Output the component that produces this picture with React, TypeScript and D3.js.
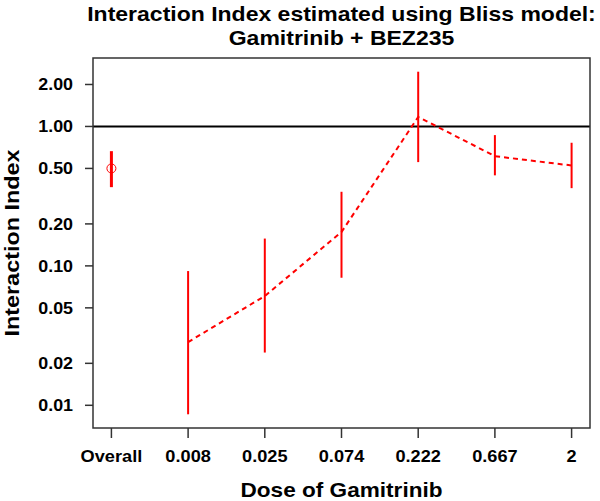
import React, { useEffect } from 'react';
import * as d3 from 'd3';

// doses on the x axis ("Overall" is the pooled estimate)
const doseLabels = ['Overall', '0.008', '0.025', '0.074', '0.222', '0.667', '2'];
// interaction index estimates and their confidence limits
const estimate = [0.5, 0.0284, 0.0608, 0.175, 1.17, 0.612, 0.525];
const lower = [0.367, 0.00862, 0.0239, 0.0822, 0.555, 0.446, 0.361];
const upper = [0.665, 0.0918, 0.157, 0.34, 2.47, 0.867, 0.764];
const yTicks = [0.01, 0.02, 0.05, 0.1, 0.2, 0.5, 1, 2];

const W = 600;
const H = 501;
const margin = { top: 58, right: 10, bottom: 73, left: 93 };

// bold label, stretched a little along its baseline like the original
const Label = ({ x, y, rotate = 0, size, stretch = 1, anchor = 'middle', children }) => (
  <text
    transform={`translate(${x},${y}) rotate(${rotate}) scale(${stretch},1)`}
    textAnchor={anchor}
    fontSize={size}
    fontWeight="bold"
  >
    {children}
  </text>
);

const App = () => {
  useEffect(() => {
    document.body.style.margin = '0';
  }, []);

  const x0 = margin.left;
  const x1 = W - margin.right;
  const y0 = H - margin.bottom;
  const y1 = margin.top;

  // R-style 4% padding on each side
  const n = doseLabels.length;
  const xPad = (n - 1) * 0.04;
  const x = d3.scaleLinear().domain([1 - xPad, n + xPad]).range([x0, x1]);

  const lo = Math.log10(d3.min(lower));
  const hi = Math.log10(d3.max(upper));
  const yPad = (hi - lo) * 0.04;
  const y = d3.scaleLog().domain([10 ** (lo - yPad), 10 ** (hi + yPad)]).range([y0, y1]);

  const doseIdx = d3.range(1, n); // dose-response points, not "Overall"
  const line = d3.line().x(i => x(i + 1)).y(i => y(estimate[i]));

  const font = 'Liberation Sans, Arial, sans-serif';
  const cx = (x0 + x1) / 2;

  return (
    <svg width={W} height={H} style={{ display: 'block', fontFamily: font }}>
      <rect width={W} height={H} fill="#fff" />

      {/* title */}
      <Label x={cx} y={21} size={20} stretch={1.15}>
        Interaction Index estimated using Bliss model:
      </Label>
      <Label x={cx} y={45} size={20} stretch={1.15}>
        Gamitrinib + BEZ235
      </Label>

      {/* reference line at 1 */}
      <line x1={x0} x2={x1} y1={y(1)} y2={y(1)} stroke="#000" strokeWidth={2} />

      {/* dashed line through dose estimates */}
      <path d={line(doseIdx)} fill="none" stroke="#ff0000" strokeWidth={2} strokeDasharray="5,4" />

      {/* confidence intervals */}
      {estimate.map((d, i) => (
        <line
          key={i}
          x1={x(i + 1)}
          x2={x(i + 1)}
          y1={y(lower[i])}
          y2={y(upper[i])}
          stroke="#ff0000"
          strokeWidth={i === 0 ? 3 : 2}
        />
      ))}

      {/* overall point */}
      <circle cx={x(1)} cy={y(estimate[0])} r={4.5} fill="none" stroke="#ff0000" strokeWidth={1} />

      {/* box */}
      <rect x={x0} y={y1} width={x1 - x0} height={y0 - y1} fill="none" stroke="#333" strokeWidth={1.5} />

      {/* y axis */}
      {yTicks.map(t => (
        <g key={t}>
          <line x1={x0 - 8} x2={x0} y1={y(t)} y2={y(t)} stroke="#333" strokeWidth={1.5} />
          <Label x={x0 - 20} y={y(t) + 6} size={17} stretch={1.05} anchor="end">
            {t.toFixed(2)}
          </Label>
        </g>
      ))}
      <Label x={19} y={(y0 + y1) / 2} rotate={-90} size={20} stretch={1.17}>
        Interaction Index
      </Label>

      {/* x axis */}
      {doseLabels.map((lab, i) => (
        <g key={lab}>
          <line x1={x(i + 1)} x2={x(i + 1)} y1={y0} y2={y0 + 10} stroke="#333" strokeWidth={1.5} />
          <Label x={x(i + 1)} y={462} size={17} stretch={1.07}>
            {lab}
          </Label>
        </g>
      ))}
      <Label x={cx} y={497} size={20} stretch={1.13}>
        Dose of Gamitrinib
      </Label>
    </svg>
  );
};

export default App;
